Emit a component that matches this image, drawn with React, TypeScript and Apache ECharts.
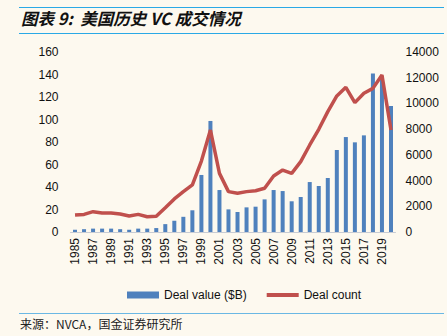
import React, { useEffect, useRef } from "react";
import * as echarts from "echarts";

const years = Array.from({ length: 36 }, (_, i) => String(1985 + i));
const dealValue = [2, 2.5, 3, 3, 3, 2.5, 2, 3, 3, 3.5, 7, 10, 13.5, 19.3, 50.7, 98.7, 37.3, 20.1, 17.8, 21.9, 22.5, 29, 37.3, 36.4, 27.3, 31.1, 44.4, 40.9, 48, 72.9, 84.4, 79.7, 85.9, 141, 136, 112];
const dealCount = [1320, 1370, 1580, 1480, 1480, 1400, 1240, 1370, 1190, 1220, 1890, 2570, 3140, 3660, 5520, 7930, 4560, 3140, 3010, 3140, 3210, 3400, 4360, 4820, 4560, 5470, 6770, 7990, 9360, 10580, 11250, 10060, 10790, 11170, 12210, 7930];
const leftTicks = [0, 160, 20];
const rightTicks = [0, 14000, 2000];

export default function App() {
  const ref = useRef<HTMLDivElement>(null);
  useEffect(() => {
    const chart = echarts.init(ref.current!, null, { renderer: "svg" });
    const font = "'Liberation Sans', Arial, sans-serif";
    chart.setOption({
      animation: false,
      backgroundColor: "#fdf9ef",
      textStyle: { fontFamily: font },
      grid: { left: 70.5, right: 51.5, top: 52, bottom: 104 },
      xAxis: {
        type: "category",
        data: years,
        axisLine: { lineStyle: { color: "#c8ccd4", width: 1 } },
        axisTick: { show: false },
        axisLabel: { interval: 1, rotate: 90, color: "#111", fontSize: 12, fontFamily: font, margin: 6 },
      },
      yAxis: [
        {
          type: "value", min: leftTicks[0], max: leftTicks[1], interval: leftTicks[2],
          splitLine: { show: false }, axisLine: { show: false }, axisTick: { show: false },
          axisLabel: { color: "#111", fontSize: 12, fontFamily: font, margin: 12, formatter: (v: number) => String(v) },
        },
        {
          type: "value", min: rightTicks[0], max: rightTicks[1], interval: rightTicks[2],
          splitLine: { show: false }, axisLine: { show: false }, axisTick: { show: false },
          axisLabel: { color: "#111", fontSize: 12, fontFamily: font, margin: 10, formatter: (v: number) => String(v) },
        },
      ],
      legend: {
        left: 122, top: 284, itemGap: 20,
        itemWidth: 32, itemHeight: 7,
        textStyle: { color: "#111", fontSize: 12, fontFamily: font },
        data: [
          { name: "Deal value ($B)", icon: "rect" },
          { name: "Deal count", icon: "path://M0,0 L32,0 L32,4 L0,4 Z" },
        ],
      },
      series: [
        {
          name: "Deal value ($B)", type: "bar", data: dealValue, yAxisIndex: 0,
          barWidth: 4, itemStyle: { color: "#4f81bd" },
        },
        {
          name: "Deal count", type: "line", data: dealCount, yAxisIndex: 1,
          symbol: "none", lineStyle: { color: "#c0504d", width: 3.5 }, itemStyle: { color: "#c0504d" },
        },
      ],
      graphic: [
        { type: "line", shape: { x1: 19, y1: 7.5, x2: 444, y2: 7.5 }, style: { stroke: "#2aa9e6", lineWidth: 1 } },
        { type: "line", shape: { x1: 19, y1: 33.5, x2: 444, y2: 33.5 }, style: { stroke: "#2aa9e6", lineWidth: 1 } },
        { type: "line", shape: { x1: 19, y1: 313.5, x2: 444, y2: 313.5 }, style: { stroke: "#6bb8e4", lineWidth: 1 } },
        {
          type: "text", left: 21, top: 10,
          style: { text: "图表 9:  美国历史 VC 成交情况", fill: "#111", font: "italic bold 16.5px 'Noto Sans CJK SC', sans-serif" },
        },
        {
          type: "text", left: 20, top: 317,
          style: { text: "来源：NVCA，国金证券研究所", fill: "#222", font: "12px 'Noto Sans CJK SC', sans-serif" },
        },
      ],
    });
    return () => chart.dispose();
  }, []);
  return <div ref={ref} style={{ width: 447, height: 336, position: "absolute", left: 0, top: 0 }} />;
}
